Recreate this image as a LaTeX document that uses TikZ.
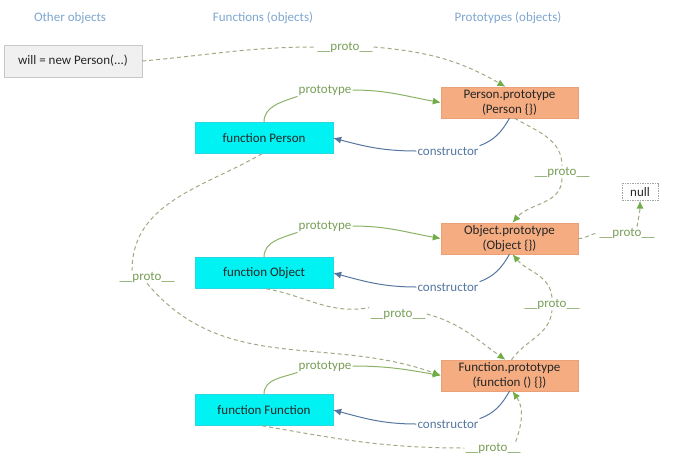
\documentclass[tikz,border=0pt]{standalone}
\usepackage{fontspec}
\setmainfont{Carlito}
\usetikzlibrary{arrows.meta}

\definecolor{headblue}{RGB}{126,166,207}
\definecolor{cyanfill}{RGB}{0,242,242}
\definecolor{cyanline}{RGB}{40,215,225}
\definecolor{orangefill}{RGB}{244,172,128}
\definecolor{orangeline}{RGB}{236,160,120}
\definecolor{grayfill}{RGB}{240,240,240}
\definecolor{grayline}{RGB}{200,200,200}
\definecolor{protogreen}{RGB}{112,173,71}
\definecolor{linkgreen}{RGB}{140,178,105}
\definecolor{dashgreen}{RGB}{160,170,130}
\definecolor{labelgreen}{RGB}{120,158,88}
\definecolor{ctorblue}{RGB}{84,118,160}

\begin{document}
\begin{tikzpicture}[x=1pt, y=1pt, font=\fontsize{13}{15}\selectfont]
	\tikzstyle{func_box} = [rectangle, fill=cyanfill, draw=cyanline, minimum width=138pt, minimum height=31pt, inner sep=1pt, text=black!85]
	\tikzstyle{proto_box} = [rectangle, fill=orangefill, draw=orangeline, minimum width=137pt, minimum height=31pt, inner sep=1pt, align=center, text=black!85]
	\tikzstyle{obj_box} = [rectangle, fill=grayfill, draw=grayline, minimum width=138pt, minimum height=32pt, inner sep=1pt, text=black!85]
	\tikzstyle{head_text} = [text=headblue]
	\tikzstyle{edge_text} = [inner sep=1pt, text=labelgreen]
	\tikzstyle{ctor_text} = [inner sep=1pt, text=ctorblue]
	\tikzstyle{link_line} = [draw=linkgreen, line width=1pt]
	\tikzstyle{link_arrow} = [link_line, -{Latex[length=8pt,width=7pt,color=protogreen]}]
	\tikzstyle{ctor_line} = [draw=ctorblue, line width=1pt]
	\tikzstyle{ctor_arrow} = [ctor_line, -{Latex[length=8pt,width=7pt]}]
	\tikzstyle{proto_line} = [draw=dashgreen, line width=1pt, dash pattern=on 4pt off 3pt]
	\tikzstyle{proto_arrow} = [proto_line, -{Latex[length=8pt,width=7pt,color=protogreen]}]

	\useasboundingbox (0,0) rectangle (696,-461);

%------------------------------------------------------------
	\node[head_text] (hOther) at (70,-18) {Other objects};
	\node[head_text] (hFunc)  at (263,-18) {Functions (objects)};
	\node[head_text] (hProto) at (508,-18) {Prototypes (objects)};

%------------------------------------------------------------
	\node[obj_box]   (will)      at (73,-61)  {will = new Person(...)};
	\node[func_box]  (fPerson)   at (264,-138) {function Person};
	\node[func_box]  (fObject)   at (264,-273) {function Object};
	\node[func_box]  (fFunction) at (264,-410) {function Function};

	\node[proto_box] (pPerson)   at (509.5,-102.5) {Person.prototype\\(Person \{\})};
	\node[proto_box] (pObject)   at (509.5,-238.5) {Object.prototype\\(Object \{\})};
	\node[proto_box] (pFunction) at (509.5,-375.5) {Function.prototype\\(function () \{\})};

	\node[rectangle, draw=gray!70, dash pattern=on 1.5pt off 1pt, minimum width=36pt, minimum height=17pt, inner sep=1pt, text=black!85] (null) at (640,-192) {null};

%------------------------------------------------------------
	\node[edge_text] (proto1) at (345,-47)  {\_\_proto\_\_};
	\node[edge_text] (proto2) at (562,-172) {\_\_proto\_\_};
	\node[edge_text] (proto3) at (627,-233) {\_\_proto\_\_};
	\node[edge_text] (proto4) at (147,-277) {\_\_proto\_\_};
	\node[edge_text] (proto5) at (398,-314) {\_\_proto\_\_};
	\node[edge_text] (proto6) at (552,-304) {\_\_proto\_\_};
	\node[edge_text] (proto7) at (493,-448) {\_\_proto\_\_};

	\node[edge_text] (ptype1) at (325,-90)  {prototype};
	\node[edge_text] (ptype2) at (325,-226) {prototype};
	\node[edge_text] (ptype3) at (325,-366) {prototype};

	\node[ctor_text] (ctor1) at (448,-151) {constructor};
	\node[ctor_text] (ctor2) at (448,-287) {constructor};
	\node[ctor_text] (ctor3) at (448,-424) {constructor};

%------------------------------------------------------------
	\draw[link_line]  (fPerson.north) to[out=90,in=200] (ptype1.south west);
	\draw[link_arrow] (ptype1.east) to[out=0,in=170] (pPerson.west);
	\draw[link_line]  (fObject.north) to[out=90,in=200] (ptype2.south west);
	\draw[link_arrow] (ptype2.east) to[out=0,in=170] (pObject.west);
	\draw[link_line]  (fFunction.north) to[out=90,in=200] (ptype3.south west);
	\draw[link_arrow] (ptype3.east) to[out=0,in=170] (pFunction.west);

%------------------------------------------------------------
	\draw[ctor_line]  (pPerson.south) to[out=240,in=20] (ctor1.north east);
	\draw[ctor_arrow] (ctor1.west) to[out=180,in=-15] (fPerson.east);
	\draw[ctor_line]  (pObject.south) to[out=240,in=20] (ctor2.north east);
	\draw[ctor_arrow] (ctor2.west) to[out=180,in=-15] (fObject.east);
	\draw[ctor_line]  (pFunction.south) to[out=240,in=20] (ctor3.north east);
	\draw[ctor_arrow] (ctor3.west) to[out=180,in=-15] (fFunction.east);

%------------------------------------------------------------
	\draw[proto_line]  (will.east) to[out=5,in=180] (proto1.west);
	\draw[proto_arrow] (proto1.east) to[out=-5,in=150] ([xshift=-4pt]pPerson.north);

	\draw[proto_line]  ([xshift=5pt]pPerson.south) to[out=-30,in=90] (proto2.north);
	\draw[proto_arrow] (proto2.south) to[out=-90,in=50] ([xshift=3pt]pObject.north);

	\draw[proto_line]  (pObject.east) to[out=0,in=185] (proto3.west);
	\draw[proto_arrow] ([xshift=10pt]proto3.north) to[out=80,in=-90] (null.south);

	\draw[proto_line]  ([xshift=-2pt]fPerson.south) to[out=-150,in=90] ([xshift=-15pt]proto4.north);
	\draw[proto_arrow] (proto4.south) to[out=-50,in=160] (pFunction.west);

	\draw[proto_line]  ([xshift=2pt]fObject.south) to[out=-10,in=190] (proto5.north west);
	\draw[proto_arrow] (proto5.east) to[out=-15,in=145] ([xshift=-4pt]pFunction.north);

	\draw[proto_line]  ([xshift=2pt]pFunction.north) to[out=55,in=-95] (proto6.south);
	\draw[proto_arrow] (proto6.north) to[out=95,in=-50] ([xshift=3pt]pObject.south);

	\draw[proto_line]  ([xshift=-2pt]fFunction.south) to[out=-10,in=180] (proto7.west);
	\draw[proto_arrow] ([xshift=-6pt]proto7.north east) to[out=70,in=-55] ([xshift=3pt]pFunction.south);

\end{tikzpicture}
\end{document}
